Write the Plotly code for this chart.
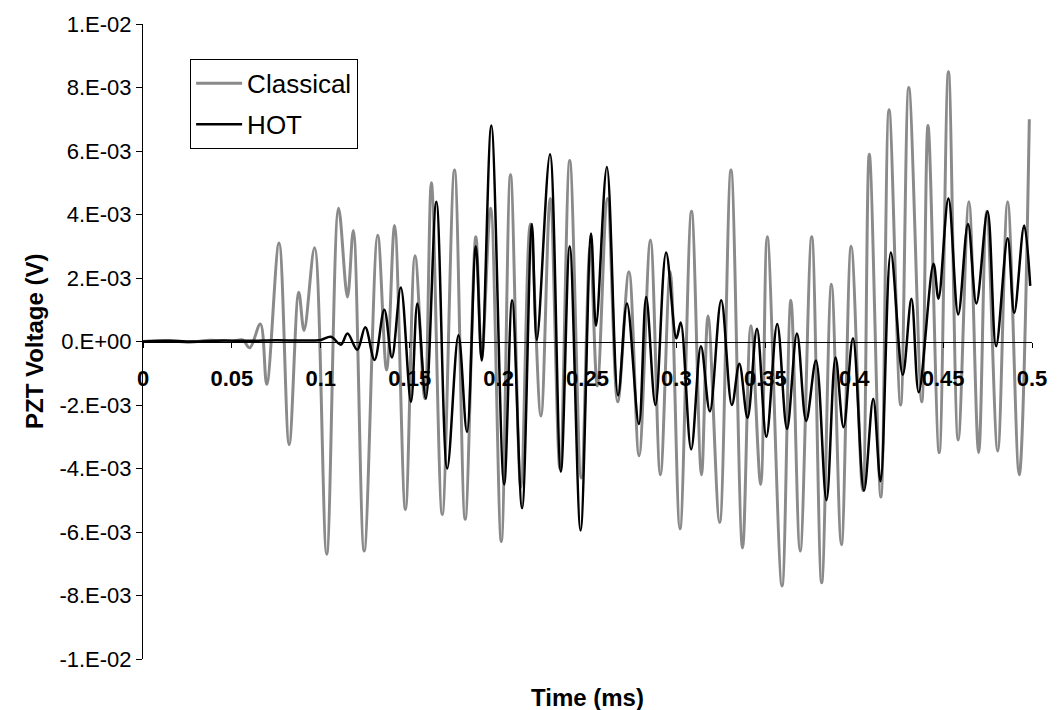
import plotly.graph_objects as go

# ---- data (time in ms, voltage read in units of 1E-03 V) ----
classical_t = [0, 0.012, 0.025, 0.038, 0.05, 0.056, 0.060, 0.066, 0.0696, 0.0765,
               0.0822, 0.0876, 0.0906, 0.0965, 0.1033, 0.1100, 0.1150, 0.1183, 0.1244, 0.1320,
               0.1370, 0.1415, 0.1476, 0.1530, 0.1585, 0.1622, 0.1683, 0.1752, 0.1812, 0.1872,
               0.1905, 0.1955, 0.2015, 0.2067, 0.2125, 0.2178, 0.2238, 0.2290, 0.2345, 0.2400,
               0.2465, 0.2515, 0.2555, 0.2612, 0.2670, 0.2733, 0.2790, 0.2854, 0.2910, 0.2965,
               0.3020, 0.3085, 0.3141, 0.3178, 0.3243, 0.3307, 0.3372, 0.3419, 0.3474, 0.3511,
               0.3594, 0.3644, 0.3696, 0.3761, 0.3817, 0.3872, 0.3928, 0.3983, 0.4048, 0.4085,
               0.4150, 0.4196, 0.4261, 0.4307, 0.4380, 0.4415, 0.4478, 0.4530, 0.4585, 0.4645,
               0.4700, 0.4745, 0.4807, 0.4863, 0.4928, 0.4985]
classical_mV = [0.0, 0.03, -0.02, 0.04, 0.0, 0.05, -0.2, 0.55, -1.35, 3.1,
                -3.25, 1.55, 0.35, 2.95, -6.7, 4.2, 1.4, 3.5, -6.6, 3.35,
                -0.9, 3.65, -5.3, 2.7, -1.8, 5.0, -5.45, 5.4, -5.6, 3.3,
                -0.5, 4.2, -6.3, 5.25, -4.6, 3.7, -2.35, 4.5, -4.0, 5.7,
                -4.3, 3.0, -1.4, 4.5, -1.9, 2.2, -3.6, 3.2, -4.2, 2.2,
                -5.9, 4.1, -4.2, 0.8, -5.7, 5.4, -6.5, 0.5, -4.5, 3.3,
                -7.7, 1.3, -6.6, 3.3, -7.6, 1.8, -6.4, 3.0, -4.7, 5.9,
                -4.9, 7.3, -2.0, 8.0, -1.9, 6.8, -3.5, 8.5, -3.1, 4.4,
                -3.5, 4.1, -3.45, 4.4, -4.2, 7.0]

hot_t = [0, 0.015, 0.03, 0.045, 0.06, 0.075, 0.09, 0.1, 0.1057, 0.1113,
         0.1150, 0.1205, 0.1250, 0.1302, 0.1357, 0.1400, 0.1450, 0.1507, 0.1543, 0.1591,
         0.1650, 0.1711, 0.1774, 0.1822, 0.1872, 0.1905, 0.1959, 0.2031, 0.2076, 0.2132,
         0.2187, 0.2215, 0.2289, 0.2350, 0.2400, 0.2461, 0.2520, 0.2548, 0.2609, 0.2672,
         0.2722, 0.2789, 0.2830, 0.2882, 0.2942, 0.3000, 0.3024, 0.3083, 0.3138, 0.3188,
         0.3252, 0.3312, 0.3354, 0.3400, 0.3453, 0.3506, 0.3567, 0.3622, 0.3678, 0.3730,
         0.3785, 0.3844, 0.3895, 0.3940, 0.3993, 0.4055, 0.4107, 0.4148, 0.4206, 0.4273,
         0.4322, 0.4363, 0.4446, 0.4474, 0.4530, 0.4585, 0.4640, 0.4687, 0.4750, 0.4798,
         0.4863, 0.4900, 0.4956, 0.4990]
hot_mV = [0.0, 0.02, 0.0, 0.03, 0.02, 0.04, 0.03, 0.05, 0.15, -0.1,
          0.25, -0.26, 0.45, -0.58, 1.0, -0.5, 1.7, -1.9, 1.2, -1.8,
          4.4, -4.0, 0.2, -2.85, 3.0, -0.6, 6.8, -4.5, 1.3, -5.25,
          3.7, 0.05, 5.9, -4.1, 3.0, -5.95, 3.4, 0.5, 5.5, -1.7,
          1.2, -2.6, 1.4, -2.0, 2.8, 0.1, 0.6, -3.4, -0.15, -2.2,
          1.3, -2.0, -0.7, -2.4, 0.4, -3.0, 0.55, -2.75, 0.25, -2.5,
          -0.6, -5.0, -0.5, -2.7, 0.1, -4.7, -1.8, -4.4, 2.8, -1.05,
          1.35, -1.6, 2.45, 1.35, 4.5, 0.85, 3.7, 1.2, 4.1, -0.15,
          3.25, 0.9, 3.65, 1.75]

x_tickvals = [0, 0.05, 0.1, 0.15, 0.2, 0.25, 0.3, 0.35, 0.4, 0.45, 0.5]
x_ticktext = ["0", "0.05", "0.1", "0.15", "0.2", "0.25", "0.3", "0.35", "0.4", "0.45", "0.5"]
y_tickvals = [-0.01, -0.008, -0.006, -0.004, -0.002, 0, 0.002, 0.004, 0.006, 0.008, 0.01]
y_ticktext = ["-1.E-02", "-8.E-03", "-6.E-03", "-4.E-03", "-2.E-03", "0.E+00",
              "2.E-03", "4.E-03", "6.E-03", "8.E-03", "1.E-02"]

assert len(classical_t) == len(classical_mV)
assert len(hot_t) == len(hot_mV)

FONT = "Liberation Sans, Arial, sans-serif"

fig = go.Figure()
fig.add_trace(go.Scatter(
    x=classical_t, y=[v * 1e-3 for v in classical_mV], name="Classical",
    mode="lines", line=dict(color="#8a8a8a", width=3, shape="spline", smoothing=1.0),
    legendgroup="a"))
fig.add_trace(go.Scatter(
    x=hot_t, y=[v * 1e-3 for v in hot_mV], name="HOT",
    mode="lines", line=dict(color="#000000", width=2.5, shape="spline", smoothing=1.0),
    legendgroup="b"))

fig.update_layout(
    width=1059, height=710,
    margin=dict(l=143, r=16, t=24, b=51),
    paper_bgcolor="white", plot_bgcolor="white",
    font=dict(family=FONT, color="black"),
    showlegend=True,
    legend=dict(x=0.053, y=0.945, xanchor="left", yanchor="top",
                bordercolor="black", borderwidth=1, bgcolor="white",
                font=dict(size=26, family=FONT), tracegroupgap=4,
                itemwidth=46),
    xaxis=dict(range=[0, 0.5], anchor="free", position=0.5,
               tickvals=x_tickvals, ticktext=x_ticktext,
               tickfont=dict(size=22, family=FONT, weight="bold"),
               showline=True, linecolor="black", linewidth=1,
               ticks="outside", ticklen=5, tickcolor="black",
               ticklabelstandoff=12,
               showgrid=False, zeroline=False),
    yaxis=dict(range=[-0.01, 0.01],
               tickvals=y_tickvals, ticktext=y_ticktext,
               tickfont=dict(size=22, family=FONT),
               showline=True, linecolor="black", linewidth=1,
               ticks="outside", ticklen=6, tickcolor="black",
               showgrid=False, zeroline=False),
    annotations=[
        dict(text="<b>PZT Voltage (V)</b>", xref="paper", yref="paper",
             x=-0.122, y=0.5, xanchor="center", yanchor="middle",
             textangle=-90, showarrow=False, font=dict(size=24, family=FONT)),
        dict(text="<b>Time (ms)</b>", xref="paper", yref="paper",
             x=(593 - 143) / 900, y=-(697 - 659) / 635, xanchor="center", yanchor="middle",
             showarrow=False, font=dict(size=24, family=FONT)),
    ],
)

fig.write_html("out.html")
